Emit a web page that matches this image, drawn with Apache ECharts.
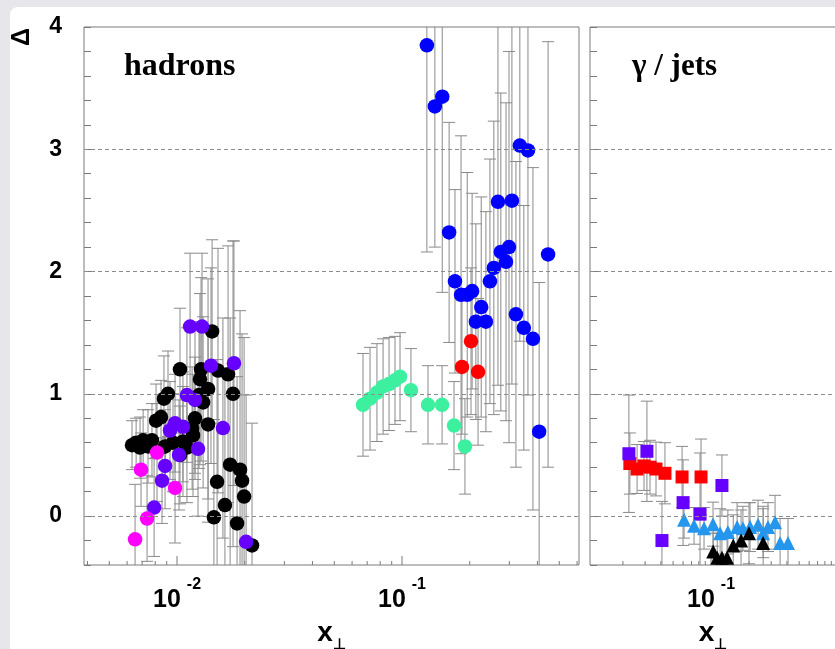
<!DOCTYPE html>
<html><head><meta charset="utf-8">
<script src="https://cdn.jsdelivr.net/npm/echarts@6/dist/echarts.min.js"></script>
<style>
html,body{margin:0;padding:0;background:#e7e7eb;width:835px;height:649px;overflow:hidden}
#paper{position:absolute;left:10px;top:7px;width:840px;height:660px;background:#fff;border-top-left-radius:8px}
#chart{position:absolute;left:0;top:0;width:835px;height:649px}
</style></head><body>
<div id="paper"></div><div id="chart"></div>
<script>
// ---------- tick labels ----------
const hadronXLabels = [0.01, 0.1];
const jetXLabels = [0.1];
const yLabels = [0, 1, 2, 3, 4];
const gridLevels = [0, 1, 2, 3];

// ---------- hadrons panel ----------
const blackX = [0.01432,0.01031,0.01279,0.01521,0.01686,0.01265,0.01374,0.00912,0.00875,0.01253,0.01306,0.01774,0.00849,0.00807,0.01202,0.01374,0.01167,0.01178,0.00631,0.00658,0.00685,0.00707,0.00743,0.00774,0.00885,0.00960,0.01063,0.01107,0.01031,0.01722,0.01906,0.01946,0.01507,0.01987,0.01633,0.01459,0.01849,0.02155];
const blackY = [1.51,1.20,1.20,1.19,1.16,1.12,1.04,1.00,0.96,0.99,0.93,1.00,0.81,0.78,0.80,0.75,0.72,0.66,0.58,0.60,0.56,0.62,0.57,0.62,0.57,0.60,0.61,0.56,0.50,0.42,0.38,0.29,0.28,0.16,0.09,-0.01,-0.06,-0.24];
const blackErr = [0.75,0.5,0.75,1.0,1.05,0.7,0.9,0.35,0.35,0.6,0.7,1.25,0.3,0.3,0.5,0.8,0.5,0.5,0.2,0.2,0.25,0.25,0.3,0.3,0.3,0.4,0.45,0.45,0.4,1.2,1.3,1.2,1.0,1.3,1.05,0.8,1.2,1.0];

const violetX = [0.01143,0.01292,0.01416,0.01791,0.01107,0.01202,0.00980,0.00931,0.01063,0.01600,0.01240,0.01021,0.00885,0.00858,0.00791,0.02028];
const violetY = [1.55,1.55,1.23,1.25,0.99,0.95,0.76,0.70,0.73,0.72,0.55,0.50,0.41,0.29,0.07,-0.21];
const violetErr = [0.6,0.6,0.8,1.0,0.55,0.6,0.4,0.4,0.45,0.9,0.55,0.45,0.35,0.35,0.4,1.2];

const magentaX = [0.00815,0.00692,0.00980,0.00736,0.00651];
const magentaY = [0.52,0.38,0.23,-0.02,-0.19];
const magentaErr = [0.4,0.3,0.45,0.35,0.45];

const greenX = [0.0671,0.0721,0.0774,0.0824,0.0876,0.0931,0.0980,0.1096,0.1305,0.1507,0.1703,0.1905];
const greenY = [0.91,0.96,1.01,1.06,1.08,1.11,1.14,1.03,0.91,0.91,0.74,0.57];
const greenErr = [0.42,0.42,0.40,0.39,0.38,0.36,0.36,0.34,0.32,0.32,0.36,0.39];

const blueX = [0.129,0.140,0.151,0.162,0.172,0.183,0.195,0.205,0.213,0.225,0.236,0.246,0.256,0.267,0.275,0.290,0.299,0.308,0.321,0.334,0.348,0.363,0.382,0.407,0.446];
const blueY = [3.85,3.35,3.43,2.32,1.92,1.81,1.81,1.84,1.59,1.71,1.59,1.92,2.03,2.57,2.16,2.08,2.20,2.58,1.65,3.03,1.54,2.99,1.45,0.69,2.14];
const blueErr = [1.69,1.15,1.6,0.9,0.75,1.3,1.0,0.8,0.8,0.9,0.9,1.0,1.2,1.5,1.3,1.3,1.6,1.5,1.25,1.6,1.0,2.0,1.4,1.22,1.74];

const redX = [0.2027,0.1848,0.2178];
const redY = [1.43,1.22,1.18];
const redErr = [0.6,0.55,0.6];

// ---------- gamma / jets panel ----------
const redSqX = [0.0227,0.0259,0.0294,0.0328,0.0366,0.0431,0.0589,0.0833];
const redSqY = [0.43,0.385,0.41,0.40,0.385,0.35,0.32,0.32];
const redSqErr = [0.25,0.2,0.2,0.22,0.22,0.25,0.25,0.31];

const violetSqX = [0.0223,0.0310,0.0408,0.0600,0.0818,0.122];
const violetSqY = [0.51,0.53,-0.20,0.11,0.016,0.25];
const violetSqErr = [0.48,0.41,0.32,0.35,0.5,0.25];

const skyTriX = [0.0611,0.0733,0.088,0.1037,0.118,0.136,0.161,0.179,0.204,0.236,0.259,0.283,0.322,0.353,0.408];
const skyTriY = [-0.03,-0.08,-0.10,-0.066,-0.14,-0.13,-0.09,-0.10,-0.09,-0.07,-0.14,-0.09,-0.05,-0.22,-0.22];
const skyTriErr = [0.15,0.15,0.17,0.18,0.2,0.18,0.2,0.18,0.2,0.2,0.2,0.2,0.22,0.2,0.2];

const blackTriX = [0.104,0.112,0.122,0.134,0.150,0.173,0.200,0.259];
const blackTriY = [-0.29,-0.34,-0.34,-0.34,-0.24,-0.20,-0.14,-0.22];
const blackTriErr = [0.15,0.2,0.2,0.2,0.25,0.25,0.25,0.3];

// ---------- helpers ----------
const SANS = '"Liberation Sans", Arial, sans-serif';
const SERIF = '"Liberation Serif", "Times New Roman", serif';
const Y_MIN = -0.4, Y_MAX = 4;
const pts = (xs, ys) => xs.map((x, i) => [x, ys[i]]);
const errPts = (xs, ys, es) => xs.map((x, i) => [x, ys[i], es[i]]);

function logTicks(min, max) {
  const out = [];
  for (let e = -4; e <= 1; e++) for (let m = 1; m <= 9; m++) {
    const v = m * Math.pow(10, e);
    if (v >= min && v <= max) out.push([v, m === 1 ? 1 : 0]);
  }
  return out;
}

function renderErr(params, api) {
  const cs = params.coordSys;
  const x = api.value(0), y = api.value(1), e = api.value(2);
  const top = api.coord([x, y + e]), bot = api.coord([x, y - e]);
  const yTop = Math.max(top[1], cs.y), yBot = Math.min(bot[1], cs.y + cs.height);
  const hw = 6;
  const st = { stroke: '#8a8a8a', lineWidth: 1 };
  const ch = [{ type: 'line', shape: { x1: top[0], y1: yTop, x2: top[0], y2: yBot }, style: st }];
  if (top[1] >= cs.y) ch.push({ type: 'line', shape: { x1: top[0] - hw, y1: top[1], x2: top[0] + hw, y2: top[1] }, style: st });
  if (bot[1] <= cs.y + cs.height) ch.push({ type: 'line', shape: { x1: bot[0] - hw, y1: bot[1], x2: bot[0] + hw, y2: bot[1] }, style: st });
  return { type: 'group', children: ch };
}

function renderTick(params, api) {
  const p = api.coord([api.value(0), Y_MIN]);
  const len = api.value(1) ? 9 : 4;
  return { type: 'line', shape: { x1: p[0], y1: p[1], x2: p[0], y2: p[1] - len }, style: { stroke: '#7a7a7a', lineWidth: 1 } };
}

function errSeries(gi, xs, ys, es) {
  return { type: 'custom', xAxisIndex: gi, yAxisIndex: gi, renderItem: renderErr, encode: { x: 0, y: 1 },
    data: errPts(xs, ys, es), silent: true, z: 1 };
}
function markSeries(gi, xs, ys, color, symbol, size) {
  return { type: 'scatter', xAxisIndex: gi, yAxisIndex: gi, data: pts(xs, ys), symbol: symbol, symbolSize: size,
    itemStyle: { color: color, opacity: 1 }, silent: true, z: 3 };
}

const supRich = {
  b: { fontFamily: SANS, fontWeight: 'bold', fontSize: 25, color: '#000', verticalAlign: 'bottom', padding: [11, 0, 0, 0] },
  s: { fontFamily: SANS, fontWeight: 'bold', fontSize: 16, color: '#000', verticalAlign: 'top', padding: [0, 0, 0, 6] }
};
const nameRich = {
  x: { fontFamily: SANS, fontWeight: 'bold', fontSize: 28, color: '#000', verticalAlign: 'top' },
  s: { fontFamily: SANS, fontWeight: 'bold', fontSize: 15, color: '#000', verticalAlign: 'bottom', padding: [18, 0, 0, 0] }
};

function xAxis(gi, min, max, labels) {
  return {
    type: 'log', logBase: 10, gridIndex: gi, min: min, max: max,
    axisLine: { show: false }, axisTick: { show: false }, splitLine: { show: false }, minorTick: { show: false },
    axisLabel: {
      show: true, margin: 12, showMinLabel: true, showMaxLabel: true,
      formatter: v => {
        const ok = labels.some(l => Math.abs(l - v) / l < 1e-6);
        return ok ? '{b|10}{s|' + Math.round(Math.log10(v)) + '}' : '';
      },
      rich: supRich
    },
    name: '{x|x}{s|⊥}', nameLocation: 'middle', nameGap: 54, nameTextStyle: { rich: nameRich }
  };
}
function yAxis(gi, showLabels) {
  return {
    type: 'value', gridIndex: gi, min: Y_MIN, max: Y_MAX, interval: 0.2,
    axisLine: { show: false }, splitLine: { show: false },
    axisTick: { show: true, inside: true, length: 7, lineStyle: { color: '#7a7a7a', width: 1 } },
    axisLabel: {
      show: showLabels, margin: 22, fontFamily: SANS, fontWeight: 'bold', fontSize: 23, color: '#000',
      formatter: v => { const r = Math.round(v); return (Math.abs(v - r) < 1e-6 && yLabels.includes(r)) ? String(r) : ''; }
    }
  };
}
const dashLines = {
  silent: true, symbol: 'none', label: { show: false },
  lineStyle: { type: [4, 3], color: '#8c8c8c', width: 1 },
  data: gridLevels.map(v => ({ yAxis: v }))
};

const H_MIN = 0.00386, H_MAX = 0.612, J_MIN = 0.01096, J_MAX = 0.98;

const blackSer = markSeries(0, blackX, blackY, '#000000', 'circle', 14.5);
blackSer.markLine = dashLines;
const redSqSer = markSeries(1, redSqX, redSqY, '#ff0000', 'rect', 13);
redSqSer.markLine = dashLines;

const option = {
  animation: false,
  backgroundColor: 'transparent',
  title: [
    { text: 'hadrons', left: 124, top: 51, padding: 0, textStyle: { fontFamily: SERIF, fontWeight: 'bold', fontSize: 32, color: '#000' } },
    { text: 'γ / jets', left: 632, top: 51, padding: 0, textStyle: { fontFamily: SERIF, fontWeight: 'bold', fontSize: 31, color: '#000' } }
  ],
  graphic: [
    { type: 'text', x: 22, y: 37, rotation: Math.PI / 2,
      style: { text: 'Δ', fontFamily: SANS, fontWeight: 'bold', fontSize: 25, fill: '#000', align: 'center', verticalAlign: 'middle' } }
  ],
  grid: [
    { left: 84, top: 27, width: 495, height: 538, show: true, borderColor: '#7a7a7a', borderWidth: 1, backgroundColor: 'transparent', containLabel: false, outerBoundsMode: 'none' },
    { left: 590, top: 27, width: 246, height: 538, show: true, borderColor: '#7a7a7a', borderWidth: 1, backgroundColor: 'transparent', containLabel: false, outerBoundsMode: 'none' }
  ],
  xAxis: [xAxis(0, H_MIN, H_MAX, hadronXLabels), xAxis(1, J_MIN, J_MAX, jetXLabels)],
  yAxis: [yAxis(0, true), yAxis(1, false)],
  series: [
    { type: 'custom', xAxisIndex: 0, yAxisIndex: 0, renderItem: renderTick, encode: { x: 0, y: 1 }, data: logTicks(H_MIN, H_MAX), silent: true, z: 1 },
    { type: 'custom', xAxisIndex: 1, yAxisIndex: 1, renderItem: renderTick, encode: { x: 0, y: 1 }, data: logTicks(J_MIN, J_MAX), silent: true, z: 1 },
    errSeries(0, blackX, blackY, blackErr),
    errSeries(0, violetX, violetY, violetErr),
    errSeries(0, magentaX, magentaY, magentaErr),
    errSeries(0, greenX, greenY, greenErr),
    errSeries(0, blueX, blueY, blueErr),
    errSeries(0, redX, redY, redErr),
    errSeries(1, redSqX, redSqY, redSqErr),
    errSeries(1, violetSqX, violetSqY, violetSqErr),
    errSeries(1, skyTriX, skyTriY, skyTriErr),
    errSeries(1, blackTriX, blackTriY, blackTriErr),
    blackSer,
    markSeries(0, violetX, violetY, '#6600ff', 'circle', 14.5),
    markSeries(0, magentaX, magentaY, '#ff00ff', 'circle', 14.5),
    markSeries(0, greenX, greenY, '#3cf0a0', 'circle', 14.5),
    markSeries(0, blueX, blueY, '#0000ff', 'circle', 14.5),
    markSeries(0, redX, redY, '#ff0000', 'circle', 14.5),
    redSqSer,
    markSeries(1, violetSqX, violetSqY, '#6600ff', 'rect', 13),
    markSeries(1, skyTriX, skyTriY, '#2496ee', 'triangle', 14),
    markSeries(1, blackTriX, blackTriY, '#000000', 'triangle', 14)
  ]
};
const chart = echarts.init(document.getElementById('chart'), null, { renderer: 'canvas' });
chart.setOption(option);
</script></body></html>
